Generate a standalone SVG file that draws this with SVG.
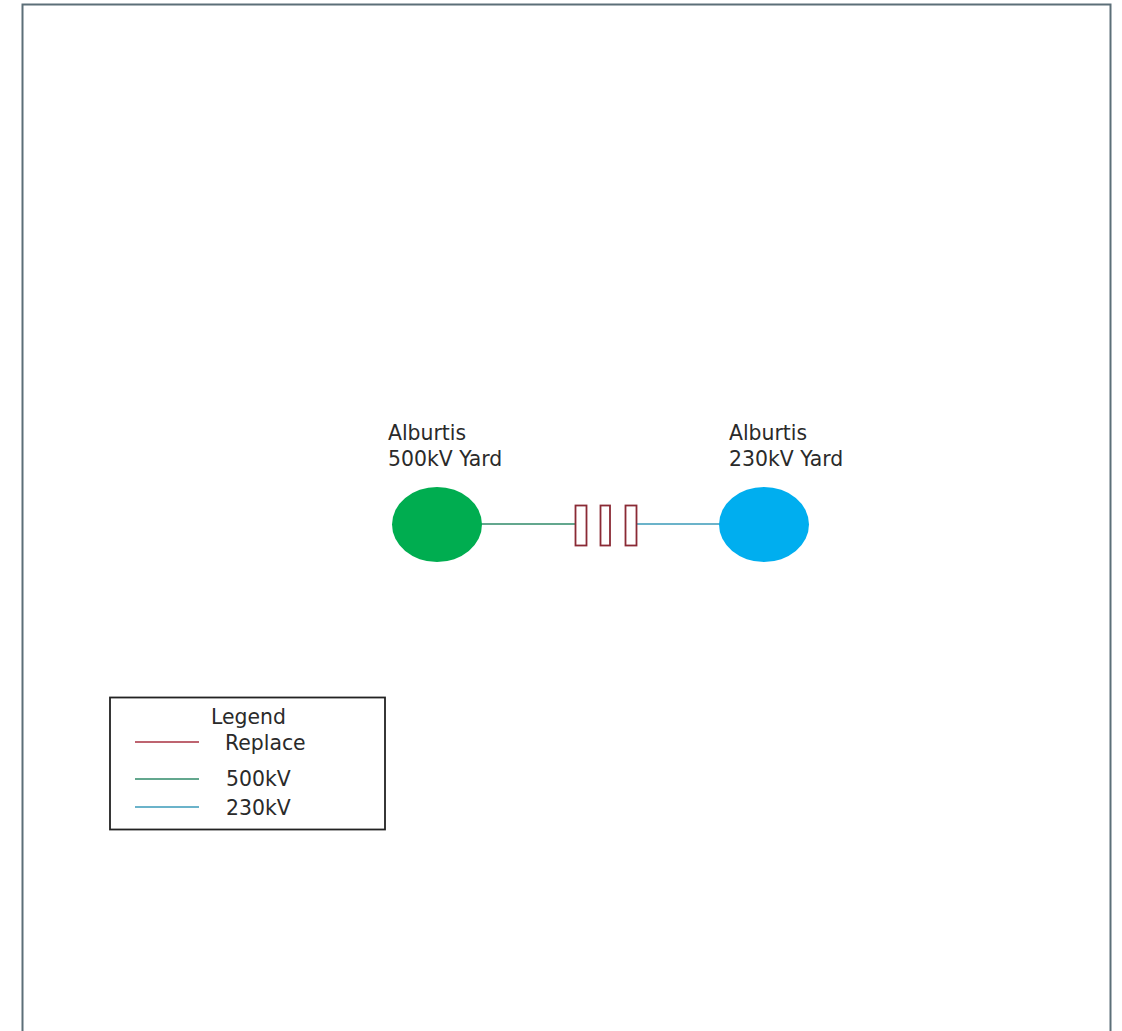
<svg xmlns="http://www.w3.org/2000/svg" width="1122" height="1031" viewBox="0 0 1122 1031">
<style>
text{font-family:"DejaVu Sans","Open Sans",sans-serif;font-size:20.400px;fill:#2a2a2a}
.w{fill:none;stroke-width:1.6}
.rep{fill:#fff;stroke:#8a2a35;stroke-width:1.8}
</style>
<rect width="1122" height="1031" fill="#fff"/>
<rect id="frame" x="22.5" y="4.5" width="1088" height="1040" fill="none" stroke="#5c6f78" stroke-width="2"/>
<g id="connectors">
<path class="w" d="M480 524H575" stroke="#2f8a68"/>
<path class="w" d="M637 524H721" stroke="#3a9ab8"/>
</g>
<g id="yard500"><ellipse cx="437" cy="524.500" rx="45" ry="37.500" fill="#00ad50"/>
<text x="388" y="440">Alburtis</text><text x="388" y="466">500kV Yard</text></g>
<g id="yard230"><ellipse cx="764" cy="524.500" rx="45" ry="37.500" fill="#00aeef"/>
<text x="729" y="440">Alburtis</text><text x="729" y="466">230kV Yard</text></g>
<g id="replace1"><rect class="rep" x="575.500" y="505.500" width="11" height="40"/></g>
<g id="replace2"><rect class="rep" x="600.500" y="505.500" width="9.500" height="40"/></g>
<g id="replace3"><rect class="rep" x="625.500" y="505.500" width="11" height="40"/></g>
<g id="legend">
<rect x="110" y="697.500" width="275" height="132" fill="#fff" stroke="#222" stroke-width="1.800"/>
<text x="211" y="724">Legend</text>
<text x="225" y="750">Replace</text>
<text x="226" y="786">500kV</text>
<text x="226" y="815">230kV</text>
<path class="w" d="M135 742H199" stroke="#a83040"/>
<path class="w" d="M135 779H199" stroke="#2f8a68"/>
<path class="w" d="M135 807H199" stroke="#3a9ab8"/>
</g>
</svg>
